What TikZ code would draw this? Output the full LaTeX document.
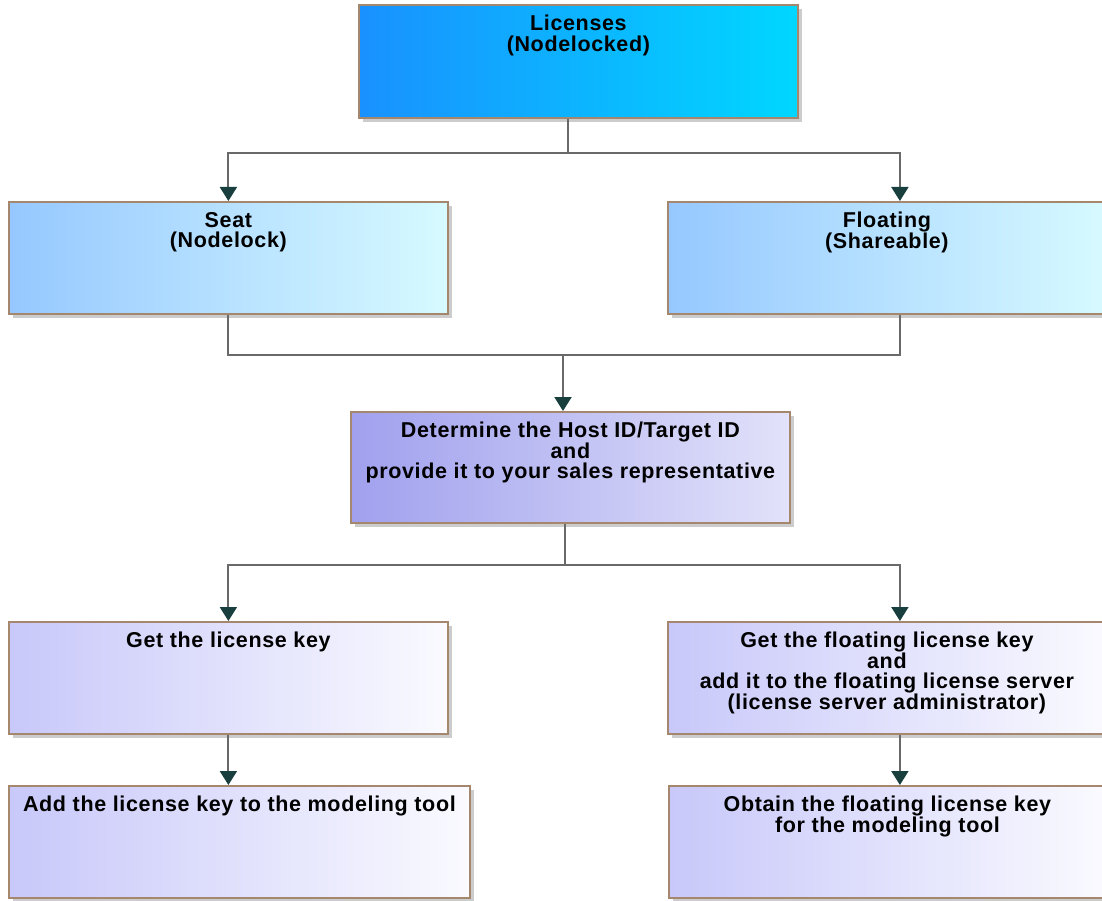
\documentclass[tikz,border=0pt]{standalone}
\usepackage{fontspec}
\setmainfont{Liberation Sans}[LetterSpace=3.0]
\usetikzlibrary{arrows.meta,shadows}
\definecolor{lineGray}{RGB}{105,105,105}
\definecolor{tipTeal}{RGB}{25,62,62}
\definecolor{boxBorder}{RGB}{165,135,110}
\definecolor{licLeft}{RGB}{25,145,255}
\definecolor{licRight}{RGB}{0,215,255}
\definecolor{kindLeft}{RGB}{150,200,255}
\definecolor{kindRight}{RGB}{215,250,255}
\definecolor{hostLeft}{RGB}{160,160,238}
\definecolor{hostRight}{RGB}{226,226,250}
\definecolor{keyLeft}{RGB}{200,200,250}
\definecolor{keyRight}{RGB}{250,250,255}
\begin{document}
\begin{tikzpicture}[x=1pt, y=-1pt,
    font=\fontsize{21.5}{20.5}\selectfont\bfseries,
    block/.style={rectangle, draw=boxBorder, line width=1.8pt, anchor=north west,
        inner sep=0pt, minimum width=439pt, minimum height=112pt,
        drop shadow={shadow xshift=4pt, shadow yshift=-4pt, fill=black!40}},
    blocktext/.style={anchor=north, yshift=-11pt, align=center, inner sep=0pt},
    link/.style={draw=lineGray, line width=2pt},
    flow/.style={link, -{Triangle[width=17pt, length=14pt, color=tipTeal]}}]
    \useasboundingbox (0,0) rectangle (1102,901);
    \clip (0,0) rectangle (1102,901);

    \node at (358,4) [block, minimum height=113pt, left color=licLeft, right color=licRight,
        label={[blocktext]north:{Licenses\\(Nodelocked)}}] (lic) {};
    \node at (8,201) [block, left color=kindLeft, right color=kindRight,
        label={[blocktext]north:{Seat\\(Nodelock)}}] (seat) {};
    \node at (667,201) [block, minimum width=438pt, left color=kindLeft, right color=kindRight,
        label={[blocktext]north:{Floating\\(Shareable)}}] (flt) {};
    \node at (350,411) [block, minimum height=111pt, left color=hostLeft, right color=hostRight,
        label={[blocktext]north:{Determine the Host ID/Target ID\\and\\provide it to your sales representative}}] (host) {};
    \node at (8,621) [block, left color=keyLeft, right color=keyRight,
        label={[blocktext]north:{Get the license key}}] (key) {};
    \node at (667,621) [block, minimum width=438pt, left color=keyLeft, right color=keyRight,
        label={[blocktext]north:{Get the floating license key\\and\\add it to the floating license server\\(license server administrator)}}] (fkey) {};
    \node at (8,785) [block, minimum width=461pt, left color=keyLeft, right color=keyRight,
        label={[blocktext]north:{Add the license key to the modeling tool}}] (add) {};
    \node at (668,785) [block, minimum width=437pt, left color=keyLeft, right color=keyRight,
        label={[blocktext]north:{Obtain the floating license key\\for the modeling tool}}] (obt) {};

    \coordinate (busA) at (568,153);
    \coordinate (busB) at (563,355);
    \coordinate (busC) at (565,565);

    \draw[link] (busA |- lic.south) -- (busA);
    \draw[flow] (busA) -| (seat.north);
    \draw[flow] (busA) -| ([xshift=13pt]flt.north);

    \draw[link] (seat.south) |- (busB) -| ([xshift=13pt]flt.south);
    \draw[flow] (busB) -- (busB |- host.north);

    \draw[link] (busC |- host.south) -- (busC);
    \draw[flow] (busC) -| (key.north);
    \draw[flow] (busC) -| ([xshift=13pt]fkey.north);

    \draw[flow] (key.south) -- (key.south |- add.north);
    \draw[flow] ([xshift=13pt]fkey.south) -- ([xshift=13pt]fkey.south |- obt.north);
\end{tikzpicture}
\end{document}
